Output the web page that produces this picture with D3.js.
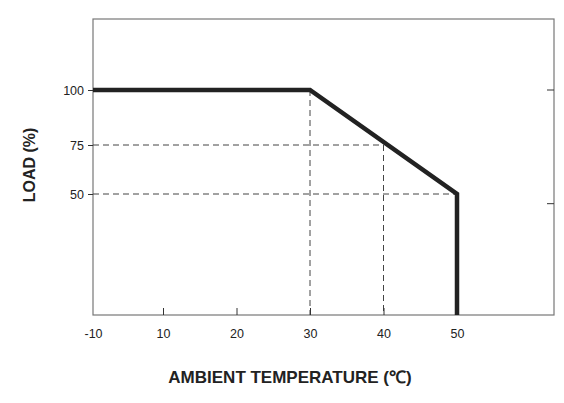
<!DOCTYPE html>
<html>
<head>
<meta charset="utf-8">
<script src="https://cdn.jsdelivr.net/npm/d3@7"></script>
<style>
  body { margin: 0; background: #fff; }
  text { font-family: "Liberation Sans", Arial, sans-serif; fill: #222; }
</style>
</head>
<body>
<svg id="svg1" width="564" height="403"></svg>
<script>
// data
var xTicks = [-10, 10, 20, 30, 40, 50];
var yTicks = [50, 75, 100];
var curveTemp = [-10, 30, 50, 50];
var curveLoad = [100, 100, 50, 0];
// guide lines: [temp from, load from, temp to, load to]
var guides = [
  [-10, 75, 40, 75],
  [-10, 50, 50, 50],
  [30, 100, 30, 0],
  [40, 75, 40, 0]
];
var rightTicks = [100, 46];

var svg = d3.select("#svg1");

// the -10 tick sits where 0 would be, so the x scale is piecewise
var x = d3.scaleLinear().domain([-10, 10, 50, 63]).range([93, 163, 457, 554]);
var y = d3.scaleLinear().domain([0, 50, 75, 100, 135]).range([315, 194, 145, 90, 19]);

// frame
svg.append("rect")
  .attr("x", x(-10)).attr("y", y(135))
  .attr("width", x(63) - x(-10)).attr("height", y(0) - y(135))
  .attr("fill", "none").attr("stroke", "#777").attr("stroke-width", 1.2);

// guides
svg.selectAll("line.guide")
  .data(guides)
  .enter().append("line")
  .attr("class", "guide")
  .attr("x1", function(d) { return x(d[0]); })
  .attr("y1", function(d) { return y(d[1]); })
  .attr("x2", function(d) { return x(d[2]); })
  .attr("y2", function(d) { return y(d[3]); })
  .attr("stroke", "#444").attr("stroke-width", 1)
  .attr("stroke-dasharray", "6,4");

// bottom axis, ticks pointing in
var gx = svg.append("g").attr("transform", "translate(0," + y(0) + ")");
gx.call(d3.axisBottom(x).tickValues(xTicks).tickFormat(String)
  .tickSizeInner(-7).tickSizeOuter(0).tickPadding(14));
gx.select(".domain").remove();
gx.selectAll("line").attr("stroke", "#333");
gx.selectAll("text").attr("font-size", 12.5).attr("fill", "#222");
gx.selectAll(".tick").filter(function(d) { return d === -10; }).select("line").remove();

// left axis, ticks pointing out
var gy = svg.append("g").attr("transform", "translate(" + x(-10) + ",0)");
gy.call(d3.axisLeft(y).tickValues(yTicks).tickFormat(String).tickSize(5).tickPadding(4));
gy.select(".domain").remove();
gy.selectAll("line").attr("stroke", "#333");
gy.selectAll("text").attr("font-size", 12.5).attr("fill", "#222");

// right ticks
svg.selectAll("line.rt")
  .data(rightTicks)
  .enter().append("line")
  .attr("x1", x(63) - 7).attr("x2", x(63))
  .attr("y1", function(d) { return y(d); })
  .attr("y2", function(d) { return y(d); })
  .attr("stroke", "#333");

// derating curve
var pts = curveTemp.map(function(t, i) { return [t, curveLoad[i]]; });
svg.append("path")
  .datum(pts)
  .attr("d", d3.line().x(function(d) { return x(d[0]); }).y(function(d) { return y(d[1]); }))
  .attr("fill", "none").attr("stroke", "#222").attr("stroke-width", 4.5)
  .attr("stroke-linejoin", "miter");

// titles
svg.append("text")
  .attr("x", 290).attr("y", 383)
  .attr("text-anchor", "middle")
  .attr("font-size", 17).attr("font-weight", "bold")
  .text("AMBIENT TEMPERATURE (℃)");

svg.append("text")
  .attr("transform", "translate(35,165) rotate(-90)")
  .attr("text-anchor", "middle")
  .attr("font-size", 16).attr("font-weight", "bold")
  .text("LOAD (%)");
</script>
</body>
</html>
